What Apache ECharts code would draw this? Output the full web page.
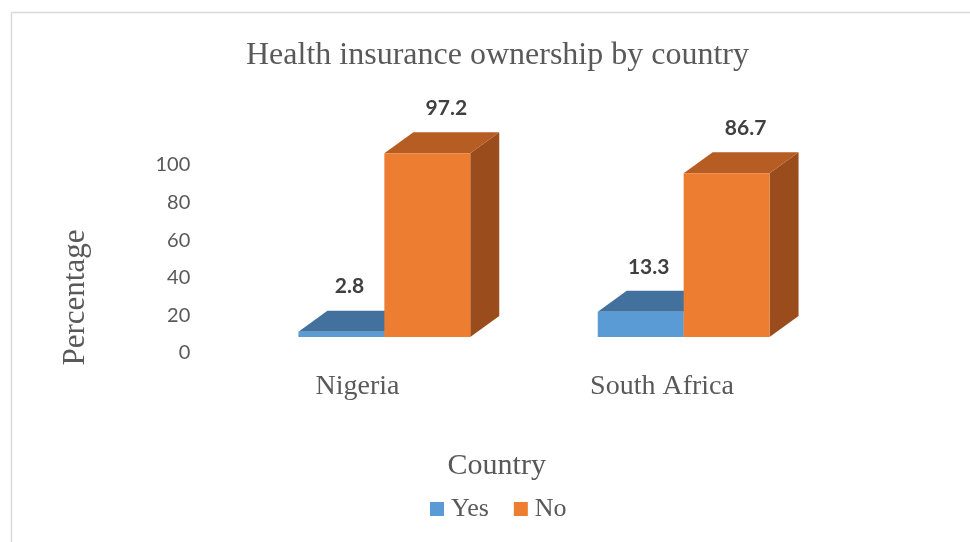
<!DOCTYPE html>
<html>
<head>
<meta charset="utf-8">
<script src="https://cdn.jsdelivr.net/npm/echarts@6/dist/echarts.min.js"></script>
<style>
html,body{margin:0;padding:0;background:#fff;}
#chart{width:970px;height:542px;}
</style>
</head>
<body>
<div id="chart"></div>
<script>
// ---- data ----
const categories = ['Nigeria', 'South Africa'];
const seriesNames = ['Yes', 'No'];
const yesValues = [2.8, 13.3];
const noValues = [97.2, 86.7];
const yMin = 0, yMax = 100, yInterval = 20;

// ---- styles ----
const FRONT = { Yes: '#5B9BD5', No: '#ED7D31' };
const TOP = { Yes: '#41719C', No: '#B55D22' };
const SIDE = { Yes: '#3A6690', No: '#9B4C1C' };
const LABEL_DX = { Yes: 8, No: 19 };
const DEPTH_X = 29, DEPTH_Y = -21, BAR_FRAC = 0.287;
const SERIF = '"Liberation Serif", "Times New Roman", serif';
const SANS = 'Lato, "Open Sans", sans-serif';

function makeRender(name) {
  const isYes = name === 'Yes';
  return function (params, api) {
    const cat = api.value(0), v = api.value(1);
    const base = api.coord([cat, 0]);
    const top = api.coord([cat, v]);
    const bw = api.size([1, 0])[0] * BAR_FRAC;
    const left = isYes ? base[0] - bw : base[0];
    const right = left + bw;
    const ty = top[1], by = base[1];
    return {
      type: 'group',
      children: [
        { type: 'polygon', shape: { points: [[right, ty], [right + DEPTH_X, ty + DEPTH_Y], [right + DEPTH_X, by + DEPTH_Y], [right, by]] }, style: { fill: SIDE[name] } },
        { type: 'polygon', shape: { points: [[left, ty], [right, ty], [right + DEPTH_X, ty + DEPTH_Y], [left + DEPTH_X, ty + DEPTH_Y]] }, style: { fill: TOP[name] } },
        { type: 'rect', shape: { x: left, y: ty, width: bw, height: by - ty }, style: { fill: FRONT[name] } },
        { type: 'text', x: left + bw / 2 + LABEL_DX[name], y: ty + DEPTH_Y - 24,
          style: { text: String(v), fill: '#404040', font: 'bold 21px ' + SANS, align: 'center', verticalAlign: 'middle' } }
      ]
    };
  };
}

const chart = echarts.init(document.getElementById('chart'), null, { renderer: 'canvas' });
chart.setOption({
  animation: false,
  backgroundColor: '#ffffff',
  graphic: [
    { type: 'line', shape: { x1: 11.5, y1: 12.5, x2: 970, y2: 12.5 }, style: { stroke: '#d9d9d9', lineWidth: 1.5 } },
    { type: 'line', shape: { x1: 11.5, y1: 12.5, x2: 11.5, y2: 542 }, style: { stroke: '#d9d9d9', lineWidth: 1.5 } }
  ],
  title: {
    text: 'Health insurance ownership by country',
    left: 246, top: 40, padding: 0,
    textStyle: { fontFamily: SERIF, fontSize: 32, fontWeight: 'normal', color: '#595959' }
  },
  legend: {
    data: seriesNames,
    left: 430, top: 496, padding: 0,
    itemWidth: 14, itemHeight: 14, itemGap: 25, icon: 'rect',
    textStyle: { fontFamily: SERIF, fontSize: 26, color: '#595959', padding: [0, 0, 0, 2] }
  },
  grid: [
    { left: 234.7, right: 136.7, top: 148, bottom: 205 },
    { left: 205.25, right: 155.75, top: 165, bottom: 189 }
  ],
  xAxis: [
    { gridIndex: 0, type: 'category', data: categories, show: false },
    { gridIndex: 1, type: 'category', data: categories,
      axisLine: { show: false }, axisTick: { show: false },
      axisLabel: { margin: 20, fontFamily: SERIF, fontSize: 28, color: '#595959' },
      name: 'Country', nameLocation: 'middle', nameGap: 98,
      nameTextStyle: { fontFamily: SERIF, fontSize: 30, color: '#595959', padding: [0, 26, 0, 0] } }
  ],
  yAxis: [
    { gridIndex: 0, type: 'value', min: yMin, max: yMax, interval: yInterval, show: false },
    { gridIndex: 1, type: 'value', min: yMin, max: yMax, interval: yInterval,
      axisLine: { show: false }, axisTick: { show: false }, splitLine: { show: false },
      axisLabel: { margin: 15, fontFamily: SANS, fontSize: 20, color: '#595959' },
      name: 'Percentage', nameLocation: 'middle', nameGap: 114, nameRotate: 90,
      nameTextStyle: { fontFamily: SERIF, fontSize: 31, color: '#595959', padding: [0, 77, 0, 0] } }
  ],
  series: [
    { name: 'Yes', type: 'custom', xAxisIndex: 0, yAxisIndex: 0, itemStyle: { color: FRONT.Yes },
      renderItem: makeRender('Yes'), data: yesValues.map((v, i) => [i, v]) },
    { name: 'No', type: 'custom', xAxisIndex: 0, yAxisIndex: 0, itemStyle: { color: FRONT.No },
      renderItem: makeRender('No'), data: noValues.map((v, i) => [i, v]) }
  ]
});
</script>
</body>
</html>
